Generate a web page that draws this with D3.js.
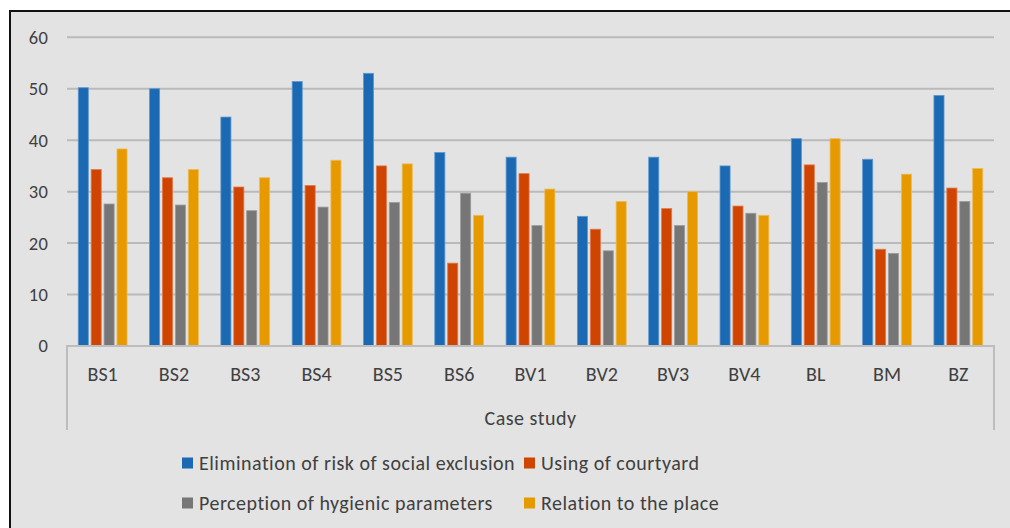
<!DOCTYPE html>
<html>
<head>
<meta charset="utf-8">
<script src="https://cdn.jsdelivr.net/npm/d3@7"></script>
<style>
  html, body { margin: 0; padding: 0; background: #ffffff; }
  svg { display: block; }
  text { font-family: Carlito, Calibri, Lato, sans-serif; fill: #404040; }
</style>
</head>
<body>
<svg id="chart" width="1010" height="528"></svg>
<script>
// Case studies along the category axis
const categories = ["BS1", "BS2", "BS3", "BS4", "BS5", "BS6", "BV1", "BV2", "BV3", "BV4", "BL", "BM", "BZ"];

// Series names and their values per case study
const seriesNames = [
  "Elimination of risk of social exclusion",
  "Using of courtyard",
  "Perception of hygienic parameters",
  "Relation to the place"
];
const socialExclusion = [50.2, 50.0, 44.5, 51.4, 53.0, 37.6, 36.7, 25.2, 36.7, 35.0, 40.3, 36.3, 48.7];
const courtyard       = [34.3, 32.7, 30.9, 31.2, 35.0, 16.1, 33.5, 22.7, 26.7, 27.2, 35.2, 18.8, 30.7];
const hygienic        = [27.6, 27.4, 26.3, 27.0, 27.9, 29.7, 23.4, 18.5, 23.4, 25.8, 31.8, 18.0, 28.1];
const placeRelation   = [38.3, 34.3, 32.7, 36.1, 35.4, 25.4, 30.5, 28.1, 30.0, 25.4, 40.3, 33.4, 34.5];
const seriesValues = [socialExclusion, courtyard, hygienic, placeRelation];
const seriesColors = ["#1b69b3", "#cf4400", "#767676", "#e69a00"];
const seriesEdges  = ["#5d98cf", "#e0794a", "#9c9c9c", "#eebb55"];

// Value axis ticks
const yTicks = [0, 10, 20, 30, 40, 50, 60];
const axisTitle = "Case study";

const svg = d3.select("#chart");

// Panel background with a dark frame on the top and left edges
svg.append("rect").attr("x", 10).attr("y", 10).attr("width", 1000).attr("height", 518).attr("fill", "#e3e3e3");
svg.append("line").attr("x1", 10).attr("x2", 1010).attr("y1", 11).attr("y2", 11).attr("stroke", "#111").attr("stroke-width", 2);
svg.append("line").attr("x1", 10).attr("x2", 10).attr("y1", 10).attr("y2", 528).attr("stroke", "#111").attr("stroke-width", 2);

const plot = { left: 67, right: 994, top: 37.3, bottom: 346 };

const x = d3.scaleBand().domain(categories).range([plot.left, plot.right]).paddingInner(0).paddingOuter(0);
const y = d3.scaleLinear().domain([0, 60]).range([plot.bottom, plot.top]);
const xs = d3.scaleBand().domain(d3.range(seriesNames.length)).range([-24.4, 24.4]).paddingInner(0.22).paddingOuter(0);

// Horizontal gridlines
svg.append("g")
  .selectAll("line")
  .data(yTicks.filter(t => t > 0))
  .join("line")
  .attr("x1", plot.left).attr("x2", plot.right)
  .attr("y1", d => y(d)).attr("y2", d => y(d))
  .attr("stroke", "#bababa").attr("stroke-width", 2);

// Value axis labels
const yAxis = svg.append("g")
  .attr("transform", `translate(${plot.left - 18.5},0)`)
  .call(d3.axisLeft(y).tickValues(yTicks).tickSize(0).tickPadding(0).tickFormat(d3.format("d")));
yAxis.select(".domain").remove();
yAxis.selectAll("text").attr("font-size", 18.5).attr("fill", "#404040").attr("font-family", null)
  .attr("letter-spacing", 0.5);

// Bars
const groups = svg.append("g")
  .selectAll("g")
  .data(categories)
  .join("g")
  .attr("transform", d => `translate(${x(d) + x.bandwidth() / 2},0)`);

groups.selectAll("rect")
  .data((c, ci) => seriesValues.map((vals, si) => ({ si, v: vals[ci] })))
  .join("rect")
  .attr("x", d => xs(d.si))
  .attr("width", xs.bandwidth())
  .attr("y", d => y(d.v))
  .attr("height", d => y(0) - y(d.v))
  .attr("fill", d => seriesColors[d.si])
  .attr("stroke", d => seriesEdges[d.si])
  .attr("stroke-width", 0.8);

// Category axis with outer box for the grouping level
const axisColor = "#bdbdbd";
svg.append("line").attr("x1", plot.left).attr("x2", plot.right).attr("y1", plot.bottom).attr("y2", plot.bottom)
  .attr("stroke", axisColor).attr("stroke-width", 2);
svg.append("line").attr("x1", plot.left).attr("x2", plot.left).attr("y1", plot.bottom - 1).attr("y2", 430)
  .attr("stroke", axisColor).attr("stroke-width", 2);
svg.append("line").attr("x1", plot.right).attr("x2", plot.right).attr("y1", plot.bottom - 1).attr("y2", 430)
  .attr("stroke", axisColor).attr("stroke-width", 2);

const xAxis = svg.append("g")
  .attr("transform", `translate(0,${plot.bottom + 21})`)
  .call(d3.axisBottom(x).tickSize(0).tickPadding(0));
xAxis.select(".domain").remove();
xAxis.selectAll("text").attr("font-size", 20).attr("fill", "#404040").attr("font-family", null)
  .attr("dy", "0.71em");

svg.append("text")
  .attr("x", (plot.left + plot.right) / 2).attr("y", 418)
  .attr("text-anchor", "middle").attr("dominant-baseline", "central")
  .attr("font-size", 20).attr("letter-spacing", 0.5)
  .text(axisTitle);

// Legend in two rows
const legendPos = [
  { x: 182, y: 463 }, { x: 524, y: 463 },
  { x: 182, y: 503 }, { x: 524, y: 503 }
];
const legend = svg.append("g")
  .selectAll("g")
  .data(seriesNames)
  .join("g")
  .attr("transform", (d, i) => `translate(${legendPos[i].x},${legendPos[i].y})`);
legend.append("rect")
  .attr("x", 0).attr("y", -5.5).attr("width", 11).attr("height", 11)
  .attr("fill", (d, i) => seriesColors[i]);
legend.append("text")
  .attr("x", 17).attr("y", 0)
  .attr("dominant-baseline", "central")
  .attr("font-size", 20).attr("letter-spacing", 0.5)
  .text(d => d);
</script>
</body>
</html>
